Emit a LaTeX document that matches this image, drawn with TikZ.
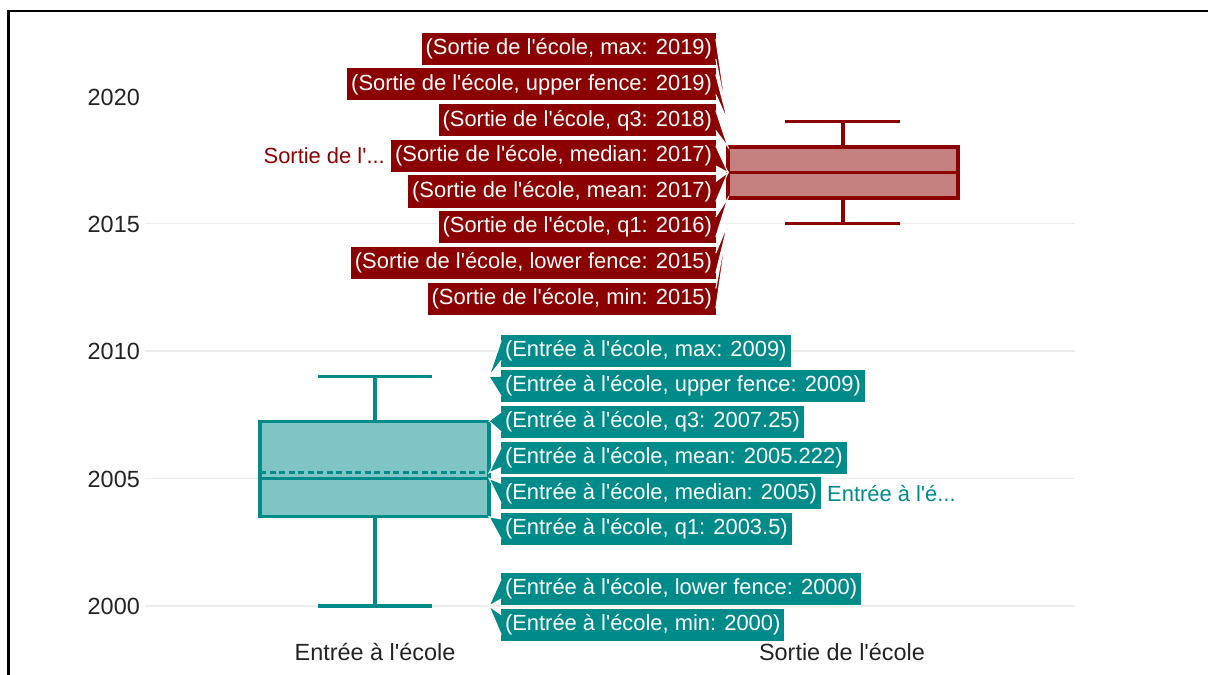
\documentclass[tikz,border=0pt]{standalone}
\usepackage{fontspec}
\usepackage{tikz}
\newfontfamily\plotfont{Liberation Sans}
\definecolor{entree}{RGB}{0,139,139}
\definecolor{sortie}{RGB}{139,0,0}
\definecolor{gridgray}{RGB}{236,236,236}
\definecolor{tickgray}{RGB}{35,35,35}

\begin{document}
\begin{tikzpicture}[x=1bp,y=-1bp,
   font=\plotfont\fontsize{22}{26}\selectfont,
   tick/.style={inner sep=0pt,text=tickgray,font=\plotfont\fontsize{23.5}{27}\selectfont},
   tip/.style={text=white,draw=white,line width=1bp,inner xsep=4.5bp,
      inner ysep=0pt,minimum height=33bp},
   tip r/.style={tip,fill=sortie,anchor=east},
   tip t/.style={tip,fill=entree,anchor=west}]

\tikzstyle {wedge r} = [fill=sortie,draw=white,line width=1bp,
   to path={([xshift=-1.2bp,yshift=10bp]\tikztostart.east) -- (\tikztotarget)
   -- ([xshift=-1.2bp,yshift=-10bp]\tikztostart.east)}];
\tikzstyle {wedge t} = [fill=entree,draw=white,line width=1bp,
   to path={([xshift=1.2bp,yshift=10bp]\tikztostart.west) -- (\tikztotarget)
   -- ([xshift=1.2bp,yshift=-10bp]\tikztostart.west)}];
\tikzstyle {boxline} = [line width=3.2bp];
\tikzstyle {meanline} = [line width=2.4bp,dash pattern=on 6bp off 3.5bp];

\useasboundingbox (0,0) rectangle (1208,675);
\fill[white] (0,0) rectangle (1208,675);

% grid and axes
\draw[gridgray,line width=1.6bp] (145,223.5) -- (1075,223.5);
\draw[gridgray,line width=1.6bp] (145,351) -- (1075,351);
\draw[gridgray,line width=1.6bp] (145,478.5) -- (1075,478.5);
\draw[gridgray,line width=1.6bp] (145,606) -- (1075,606);

\node[tick,anchor=east] (y2020) at (140,97){2020};
\node[tick,anchor=east] (y2015) at (140,224){2015};
\node[tick,anchor=east] (y2010) at (140,351){2010};
\node[tick,anchor=east] (y2005) at (140,479){2005};
\node[tick,anchor=east] (y2000) at (140,606){2000};

\node[tick] (xentree) at (375,652){Entrée à l'école};
\node[tick] (xsortie) at (842,652){Sortie de l'école};

% boxes
\fill[entree!50] (260,421.1) rectangle (489,516.75);
\draw[entree,boxline] (260,421.1) rectangle (489,516.75);
\draw[entree,boxline] (260,478.5) -- (489,478.5);
\draw[entree,meanline] (260,472.3) -- (489,472.3);
\draw[entree,boxline] (375,421.1) -- (375,376.5) (318,376.5) -- (432,376.5);
\draw[entree,boxline] (375,516.75) -- (375,606) (318,606) -- (432,606);

\fill[sortie!50] (728,147) rectangle (958,198);
\draw[sortie,boxline] (728,147) rectangle (958,198);
\draw[sortie,meanline] (728,172.5) -- (958,172.5);
\draw[sortie,boxline] (728,172.5) -- (958,172.5);
\draw[sortie,boxline] (843,147) -- (843,121.5) (785,121.5) -- (900,121.5);
\draw[sortie,boxline] (843,198) -- (843,223.5) (785,223.5) -- (900,223.5);

% points the labels refer to
\coordinate (smax) at (728,121.5);
\coordinate (sup) at (728,121.5);
\coordinate (sq3) at (728,147);
\coordinate (smed) at (728,172.5);
\coordinate (smean) at (728,172.5);
\coordinate (sq1) at (728,198);
\coordinate (slow) at (728,223.5);
\coordinate (smin) at (728,223.5);

\coordinate (emax) at (489,376.5);
\coordinate (eup) at (489,376.5);
\coordinate (eq3) at (489,421.1);
\coordinate (emean) at (489,472.8);
\coordinate (emed) at (489,478.5);
\coordinate (eq1) at (489,516.75);
\coordinate (elow) at (489,606);
\coordinate (emin) at (489,606);

% hover labels, sortie
\node[tip r] (lsmax) at (717,49){(Sortie de l'école, max: 2019)};
\node[tip r] (lsup) at (717,84.5){(Sortie de l'école, upper fence: 2019)};
\node[tip r] (lsq3) at (717,120.5){(Sortie de l'école, q3: 2018)};
\node[tip r] (lsmed) at (717,156){(Sortie de l'école, median: 2017)};
\node[tip r] (lsmean) at (717,191.5){(Sortie de l'école, mean: 2017)};
\node[tip r] (lsq1) at (717,227){(Sortie de l'école, q1: 2016)};
\node[tip r] (lslow) at (717,263){(Sortie de l'école, lower fence: 2015)};
\node[tip r] (lsmin) at (717,298.5){(Sortie de l'école, min: 2015)};
\node[anchor=east,inner sep=0pt,text=sortie] (nsortie) at (385,156){Sortie de l'...};

\path (lsmax) edge [wedge r] (smax);
\path (lsup) edge [wedge r] (sup);
\path (lsq3) edge [wedge r] (sq3);
\path (lsmed) edge [wedge r] (smed);
\path (lsmean) edge [wedge r] (smean);
\path (lsq1) edge [wedge r] (sq1);
\path (lslow) edge [wedge r] (slow);
\path (lsmin) edge [wedge r] (smin);

% hover labels, entree
\node[tip t] (lemax) at (500,350.5){(Entrée à l'école, max: 2009)};
\node[tip t] (leup) at (500,386.2){(Entrée à l'école, upper fence: 2009)};
\node[tip t] (leq3) at (500,421.9){(Entrée à l'école, q3: 2007.25)};
\node[tip t] (lemean) at (500,457.6){(Entrée à l'école, mean: 2005.222)};
\node[tip t] (lemed) at (500,493.3){(Entrée à l'école, median: 2005)};
\node[tip t] (leq1) at (500,529){(Entrée à l'école, q1: 2003.5)};
\node[tip t] (lelow) at (500,589){(Entrée à l'école, lower fence: 2000)};
\node[tip t] (lemin) at (500,624.7){(Entrée à l'école, min: 2000)};
\node[anchor=west,inner sep=0pt,text=entree] (nentree) at (827,493.3){Entrée à l'é...};

\path (lemax) edge [wedge t] (emax);
\path (leup) edge [wedge t] (eup);
\path (leq3) edge [wedge t] (eq3);
\path (lemean) edge [wedge t] (emean);
\path (lemed) edge [wedge t] (emed);
\path (leq1) edge [wedge t] (eq1);
\path (lelow) edge [wedge t] (elow);
\path (lemin) edge [wedge t] (emin);

% frame
\draw[line width=2.5bp] (8.5,675) -- (8.5,11) -- (1208,11);

\end{tikzpicture}
\end{document}
